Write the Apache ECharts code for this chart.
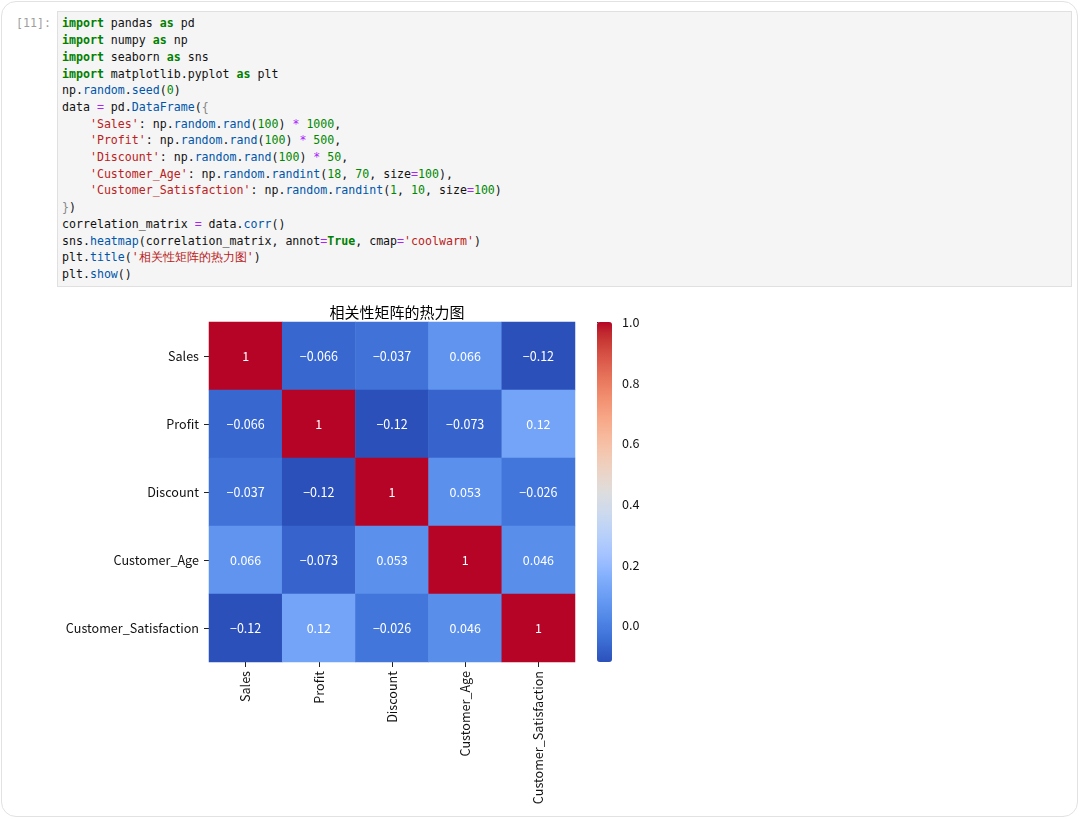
<!DOCTYPE html>
<html>
<head>
<meta charset="utf-8">
<script src="https://cdn.jsdelivr.net/npm/echarts@6/dist/echarts.min.js"></script>
<style>
  html, body { margin: 0; padding: 0; background: #ffffff; width: 1080px; height: 819px; overflow: hidden; }
  #card { position: absolute; left: 1px; top: 1px; width: 1075px; height: 814px; border: 1.5px solid #e2e2e2; border-radius: 15px; background: #fff; }
  #prompt { position: absolute; left: 16px; top: 15.4px; font-family: "DejaVu Sans Mono", monospace; font-size: 11.6px; line-height: 16.7px; color: #9e9e9e; }
  #codebox { position: absolute; left: 57px; top: 11px; width: 1013px; height: 274px; background: #f5f5f5; border: 1px solid #e0e0e0; }
  #code { position: absolute; left: 62px; top: 15.4px; margin: 0; font-family: "DejaVu Sans Mono", monospace; font-size: 11.6px; line-height: 16.7px; color: #111; white-space: pre; }
  .k { color: #008000; font-weight: bold; }
  .s { color: #ba2121; }
  .n { color: #008800; }
  .o { color: #aa22ff; }
  .p { color: #0055aa; }
  .b { color: #888; }
  #chart { position: absolute; left: 0; top: 0; width: 1080px; height: 819px; }
</style>
</head>
<body>
<div id="card"></div>
<div id="prompt">[11]:</div>
<div id="codebox"></div>
<pre id="code"><span class="k">import</span> pandas <span class="k">as</span> pd
<span class="k">import</span> numpy <span class="k">as</span> np
<span class="k">import</span> seaborn <span class="k">as</span> sns
<span class="k">import</span> matplotlib.pyplot <span class="k">as</span> plt
np.<span class="p">random</span>.<span class="p">seed</span>(<span class="n">0</span>)
data <span class="o">=</span> pd.<span class="p">DataFrame</span>(<span class="b">{</span>
    <span class="s">'Sales'</span>: np.<span class="p">random</span>.<span class="p">rand</span>(<span class="n">100</span>) <span class="o">*</span> <span class="n">1000</span>,
    <span class="s">'Profit'</span>: np.<span class="p">random</span>.<span class="p">rand</span>(<span class="n">100</span>) <span class="o">*</span> <span class="n">500</span>,
    <span class="s">'Discount'</span>: np.<span class="p">random</span>.<span class="p">rand</span>(<span class="n">100</span>) <span class="o">*</span> <span class="n">50</span>,
    <span class="s">'Customer_Age'</span>: np.<span class="p">random</span>.<span class="p">randint</span>(<span class="n">18</span>, <span class="n">70</span>, size<span class="o">=</span><span class="n">100</span>),
    <span class="s">'Customer_Satisfaction'</span>: np.<span class="p">random</span>.<span class="p">randint</span>(<span class="n">1</span>, <span class="n">10</span>, size<span class="o">=</span><span class="n">100</span>)
<span class="b">}</span>)
correlation_matrix <span class="o">=</span> data.<span class="p">corr</span>()
sns.<span class="p">heatmap</span>(correlation_matrix, annot<span class="o">=</span><span class="k">True</span>, cmap<span class="o">=</span><span class="s">'coolwarm'</span>)
plt.<span class="p">title</span>(<span class="s">'相关性矩阵的热力图'</span>)
plt.<span class="p">show</span>()</pre>
<div id="chart"></div>
<script>
// ---- data ----
const categories = ['Sales', 'Profit', 'Discount', 'Customer_Age', 'Customer_Satisfaction'];
const rowSales        = [1, -0.066, -0.037, 0.066, -0.12];
const rowProfit       = [-0.066, 1, -0.12, -0.073, 0.12];
const rowDiscount     = [-0.037, -0.12, 1, 0.053, -0.026];
const rowCustomerAge  = [0.066, -0.073, 0.053, 1, 0.046];
const rowCustomerSat  = [-0.12, 0.12, -0.026, 0.046, 1];
const colorbarTicks   = [0.0, 0.2, 0.4, 0.6, 0.8, 1.0];
const titleText = '相关性矩阵的热力图';

const rows = [rowSales, rowProfit, rowDiscount, rowCustomerAge, rowCustomerSat];
const heatData = [];
rows.forEach((row, yi) => row.forEach((v, xi) => heatData.push([xi, yi, v])));
const allVals = rows.flat();
const vMin = Math.min(...allVals);
const vMax = Math.max(...allVals);

// coolwarm palette, tuned to the tones seen in the reference picture
const coolwarm = [
  [44,80,186],[52,95,200],[60,110,212],[70,122,222],[80,134,230],[92,145,237],[104,155,243],[117,165,248],
  [130,175,252],[148,185,255],[163,194,255],[174,201,253],[184,208,249],[194,213,244],[204,217,238],[213,219,230],
  [221,221,221],[229,216,209],[236,211,197],[241,204,184],[245,196,172],[247,187,159],[247,177,147],[247,166,134],
  [244,154,123],[241,141,111],[236,127,99],[229,112,89],[222,96,79],[213,80,69],[203,62,56],[192,40,47],[182,4,38]
].map(c => 'rgb(' + c.join(',') + ')');

const FONT = '"Noto Sans CJK SC", "Noto Sans", sans-serif';
const chart = echarts.init(document.getElementById('chart'), null, { renderer: 'canvas' });

function fmt(v) {
  const s = Number(v.toPrecision(2)).toString();
  return s.replace('-', '\u2212');
}

chart.setOption({
  backgroundColor: 'transparent',
  animation: false,
  title: {
    text: titleText,
    left: 392, top: 300, textAlign: 'center',
    textStyle: { fontFamily: FONT, fontSize: 15, fontWeight: 'normal', color: '#000' }
  },
  grid: [
    { left: 209, top: 322, width: 366, height: 340 },
    { left: 597, top: 322, width: 15, height: 340 }
  ],
  xAxis: [
    {
      type: 'category', data: categories, gridIndex: 0, position: 'bottom',
      axisLine: { show: false },
      axisTick: { show: true, alignWithLabel: true, length: 5, lineStyle: { color: '#222', width: 1 } },
      axisLabel: { rotate: 90, margin: 9, fontFamily: FONT, fontSize: 12.6, color: '#111' },
      splitLine: { show: false }
    },
    { type: 'value', gridIndex: 1, show: false, min: 0, max: 1 }
  ],
  yAxis: [
    {
      type: 'category', data: categories, gridIndex: 0, inverse: true,
      axisLine: { show: false },
      axisTick: { show: true, alignWithLabel: true, length: 5, lineStyle: { color: '#222', width: 1 } },
      axisLabel: { margin: 10, fontFamily: FONT, fontSize: 12.6, color: '#111' },
      splitLine: { show: false }
    },
    {
      type: 'value', gridIndex: 1, position: 'right', min: vMin, max: vMax,
      axisLine: { show: false },
      axisTick: { show: true, length: 5, lineStyle: { color: '#222' }, customValues: colorbarTicks },
      axisLabel: { margin: 10, fontFamily: FONT, fontSize: 12.6, color: '#111', customValues: colorbarTicks,
                   formatter: v => v.toFixed(1) },
      splitLine: { show: false }
    }
  ],
  visualMap: {
    type: 'continuous',
    min: vMin, max: vMax,
    calculable: false,
    seriesIndex: 0,
    orient: 'vertical',
    left: 597, top: 322,
    itemWidth: 15, itemHeight: 340,
    padding: 0,
    text: null,
    hoverLink: false,
    inRange: { color: coolwarm }
  },
  series: [{
    type: 'heatmap',
    xAxisIndex: 0, yAxisIndex: 0,
    data: heatData,
    label: {
      show: true,
      fontFamily: FONT, fontSize: 12.5, color: '#fff',
      formatter: p => fmt(p.value[2])
    },
    itemStyle: { borderWidth: 0 },
    emphasis: { disabled: true }
  }]
});
</script>
</body>
</html>
